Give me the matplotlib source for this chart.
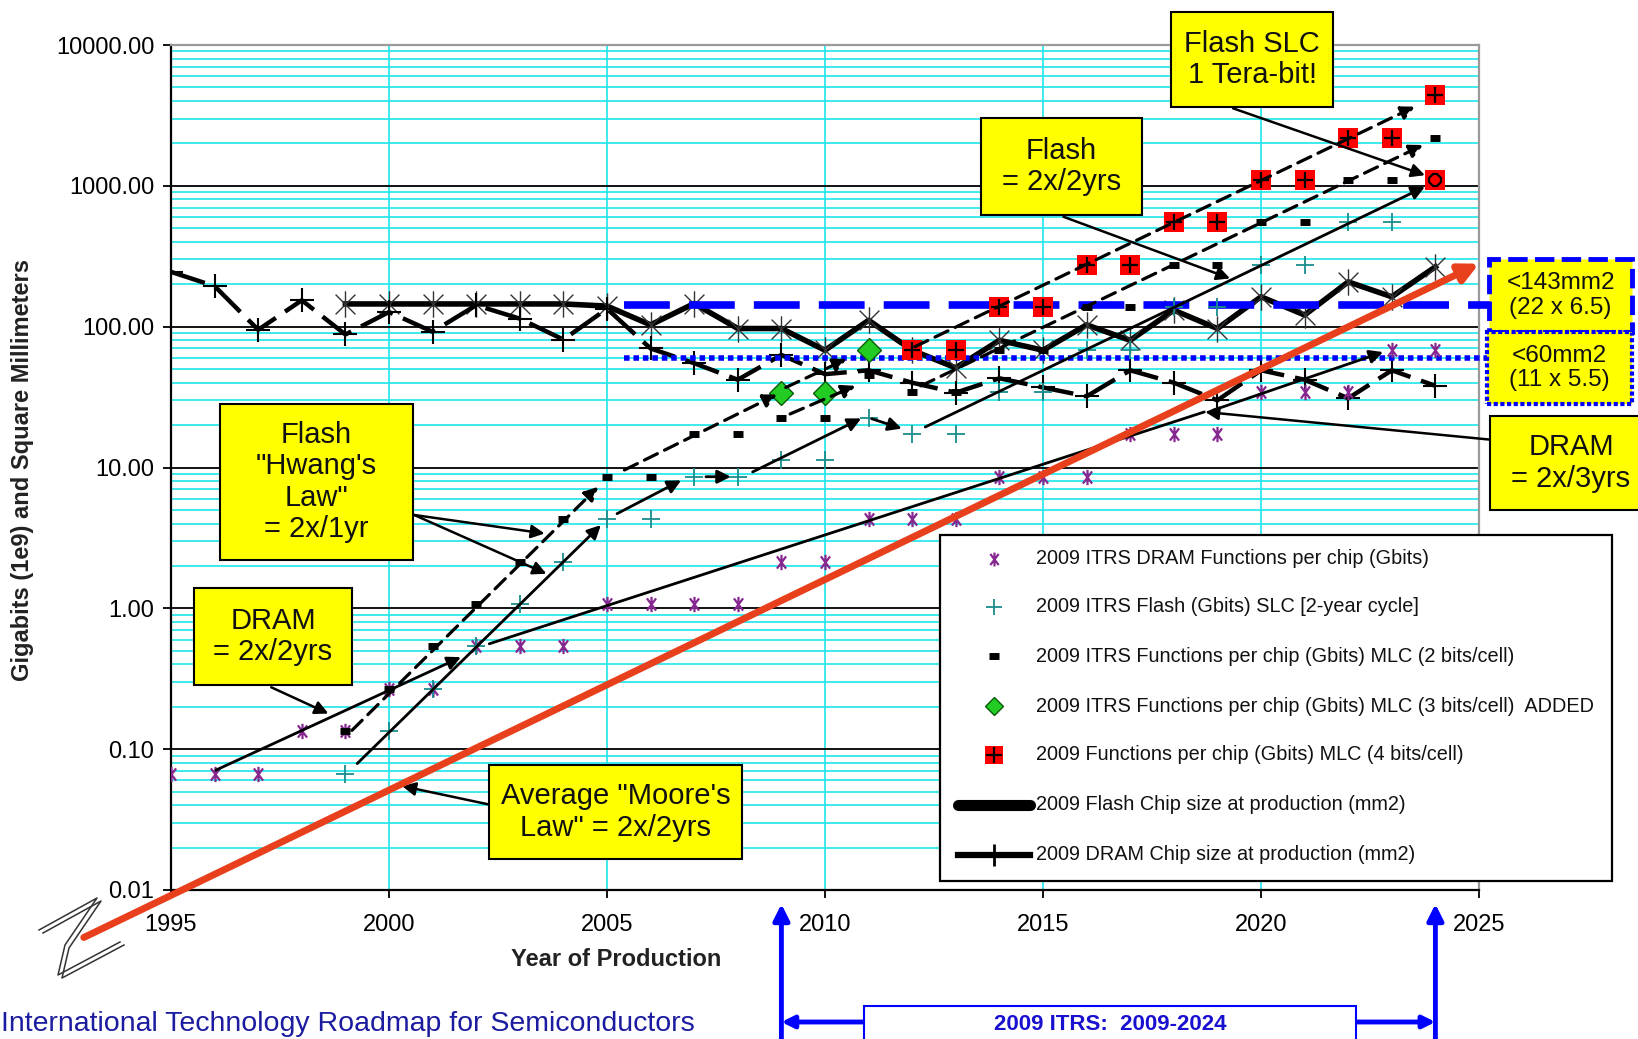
import matplotlib
matplotlib.use("Agg")
import matplotlib.pyplot as plt
from matplotlib.lines import Line2D
from matplotlib.patches import Rectangle
from matplotlib.path import Path
from matplotlib.ticker import FixedLocator, NullFormatter, LogLocator

plt.rcParams['font.family'] = ['Liberation Sans', 'DejaVu Sans']

W, H = 1638, 1039

# ---------------- data ----------------
year_ticks = [1995, 2000, 2005, 2010, 2015, 2020, 2025]
value_ticks = [0.01, 0.1, 1, 10, 100, 1000, 10000]

dram_years = list(range(1995, 2025))
dram_gbits = [0.067, 0.067, 0.067, 0.134, 0.134, 0.268, 0.268, 0.537, 0.537, 0.537,
              1.07, 1.07, 1.07, 1.07, 2.15, 2.15, 4.29, 4.29, 4.29, 8.59,
              8.59, 8.59, 17.18, 17.18, 17.18, 34.36, 34.36, 34.36, 68.72, 68.72]

flash_years = list(range(1999, 2025))
flash_slc_gbits = [0.067, 0.134, 0.268, 0.537, 1.07, 2.15, 4.29, 4.29, 8.59, 8.59,
                   11.3, 11.3, 22.6, 17.18, 17.18, 34.36, 34.36, 68.72, 68.72, 137.4,
                   137.4, 274.9, 274.9, 549.8, 549.8, 1099.5]

mlc2_years = list(range(1999, 2025))
mlc2_gbits = [0.134, 0.268, 0.537, 1.07, 2.15, 4.29, 8.59, 8.59, 17.18, 17.18,
              22.6, 22.6, 45.2, 34.36, 34.36, 68.72, 68.72, 137.4, 137.4, 274.9,
              274.9, 549.8, 549.8, 1099.5, 1099.5, 2199]

mlc3_years = [2009, 2010, 2011]
mlc3_gbits = [33.9, 33.9, 67.8]

mlc4_years = list(range(2012, 2025))
mlc4_gbits = [68.72, 68.72, 137.4, 137.4, 274.9, 274.9, 549.8, 549.8, 1099.5, 1099.5,
              2199, 2199, 4398]

flash_chip_years = list(range(1999, 2025))
flash_chip_mm2 = [145, 145, 145, 145, 145, 145, 140, 103, 146, 97,
                  97, 68, 111, 68, 51, 80, 68, 103, 80, 131,
                  97, 163, 121, 208, 163, 266]

dram_chip_years = list(range(1995, 2025))
dram_chip_mm2 = [245, 194, 95, 154, 88, 127, 92, 142, 114, 81,
                 134, 70, 55, 42, 63, 46, 49, 40, 34, 43,
                 37, 32, 49, 40, 30, 49, 42, 31, 49, 38]

flash_limit_mm2 = 143
dram_limit_mm2 = 60

# trend arrows (year, value) -> (year, value)
slc_trend = [((1999.27, 0.079), (2004.86, 3.9)), ((2005.23, 4.7), (2006.7, 8.1)),
             ((2007.27, 8.6), (2007.84, 8.6)), ((2008.34, 9.3), (2010.83, 22.3)),
             ((2011.07, 22.2), (2011.76, 18.9)), ((2012.3, 19.4), (2023.76, 985))]
mlc_trend = [((1999.15, 0.136), (2004.8, 7.3)), ((2005.4, 9.6), (2008.9, 33)),
             ((2009.1, 37), (2010.5, 59)), ((2009.2, 24), (2010.7, 38)),
             ((2012.06, 72), (2023.53, 3650)), ((2012.2, 38), (2023.72, 1950))]
dram_trend = [((1996.03, 0.071), (2001.65, 0.45), True),
              ((2002.3, 0.56), (2018.7, 24.8), False),
              ((2018.9, 25.5), (2022.8, 66), True)]
moore_start, moore_end = (1993.0, 0.0046), (2025.0, 280)
callouts = [((2000.58, 4.6), (2003.57, 3.4)), ((2000.58, 4.6), (2003.61, 1.76)),
            ((1997.3, 0.275), (1998.61, 0.179)), ((2002.29, 0.0405), (2000.30, 0.0547)),
            ((2015.47, 603), (2019.29, 220)), ((2019.36, 3550), (2023.76, 1190)),
            ((2025.23, 15.8), (2018.72, 24.8))]

PURPLE = '#86288f'
TEAL = '#1a8c8c'
GREEN = '#22cc22'
RED = '#ff0000'
CYAN = '#1ee6ea'
BLUE = '#0000ff'
YELLOW = '#ffff00'

# marker shapes
M, L = Path.MOVETO, Path.LINETO
dram_star = Path([(0, -1), (0, 1), (-0.6, -0.8), (0.6, 0.8), (-0.6, 0.8), (0.6, -0.8)],
                 [M, L, M, L, M, L])
chip_star = Path([(0, -1), (0, 1), (-0.75, -0.75), (0.75, 0.75), (-0.75, 0.75), (0.75, -0.75)],
                 [M, L, M, L, M, L])

fig = plt.figure(figsize=(W / 100, H / 100), dpi=100)
ax = fig.add_axes([171 / W, 1 - 890 / H, (1479 - 171) / W, (890 - 45) / H])
ax.set_yscale('log')
ax.set_xlim(1995, 2025)
ax.set_ylim(0.01, 10000)

# grid
ax.set_axisbelow(True)
ax.xaxis.set_major_locator(FixedLocator(year_ticks))
ax.yaxis.set_major_locator(FixedLocator(value_ticks))
ax.yaxis.set_minor_locator(LogLocator(base=10, subs=range(2, 10), numticks=20))
ax.yaxis.set_minor_formatter(NullFormatter())
ax.set_yticklabels([f'{v:.2f}' for v in value_ticks])
ax.set_xticklabels([str(y) for y in year_ticks])
ax.grid(axis='x', which='major', color=CYAN, lw=1.2)
ax.grid(axis='y', which='minor', color=CYAN, lw=1.2)
ax.grid(axis='y', which='major', color='black', lw=1.3)
ax.tick_params(axis='both', which='major', direction='out', length=6, width=1.3,
               labelsize=17, colors='black')
ax.tick_params(axis='x', pad=11)
ax.tick_params(axis='y', pad=6)
ax.tick_params(axis='y', which='minor', length=0)
for s in ('left', 'bottom'):
    ax.spines[s].set_color('black')
    ax.spines[s].set_linewidth(1.6)
for s in ('top', 'right'):
    ax.spines[s].set_color('#9a9a9a')
    ax.spines[s].set_linewidth(1.6)

# chip size series
ax.plot(flash_chip_years, flash_chip_mm2, color='black', lw=4, marker=chip_star, ms=19,
        mew=1.0, mec='#333333', mfc='none', zorder=3)
ax.plot(dram_chip_years, dram_chip_mm2, color='black', lw=3.2, ls=(0, (8, 2.5)),
        marker='+', ms=17, mew=1.5, zorder=3)

# die size limits
ax.hlines(flash_limit_mm2, 2005.4, 2025.3, color=BLUE, lw=5.5, linestyles=(0, (6, 2.5)),
          clip_on=False, zorder=3.5)
ax.hlines(dram_limit_mm2, 2005.4, 2025.3, color=BLUE, lw=4, linestyles=(0, (1, 0.7)),
          clip_on=False, zorder=3.5)

# functions per chip
ax.plot(dram_years, dram_gbits, ls='none', marker=dram_star, ms=11, mew=1.6,
        color=PURPLE, mfc='none', zorder=4)
ax.plot(flash_years, flash_slc_gbits, ls='none', marker='+', ms=13, mew=1.3,
        color=TEAL, zorder=4)
ax.plot(mlc2_years, mlc2_gbits, ls='none', marker='_', ms=7, mew=5, color='black', zorder=4)
ax.plot(mlc3_years, mlc3_gbits, ls='none', marker='D', ms=12, mfc=GREEN, mec='#0b5a0b',
        mew=1, zorder=4)
ax.plot(mlc4_years, mlc4_gbits, ls='none', marker='s', ms=14, color=RED, mew=0, zorder=4)
ax.plot(mlc4_years, mlc4_gbits, ls='none', marker='+', ms=12, color='black', mew=1.6, zorder=4.1)
ax.plot(flash_years[-1:], flash_slc_gbits[-1:], ls='none', marker='s', ms=14, color=RED,
        mew=0, zorder=4.2)
ax.plot(flash_years[-1:], flash_slc_gbits[-1:], ls='none', marker='8', ms=9, mfc='none',
        mec='black', mew=1.6, zorder=4.3)


def arrow(p0, p1, ls='-', lw=1.8, head=True, color='black', ms=20, z=5):
    style = '-|>' if head else '-'
    a = ax.annotate('', xy=p1, xytext=p0, annotation_clip=False,
                    arrowprops=dict(arrowstyle=style, color=color, lw=lw, linestyle=ls,
                                    mutation_scale=ms, shrinkA=0, shrinkB=0), zorder=z)
    a.arrow_patch.set_clip_on(False)
    return a


for p0, p1 in slc_trend:
    arrow(p0, p1, lw=2.0)
for p0, p1 in mlc_trend:
    arrow(p0, p1, ls=(0, (4.5, 2.5)), lw=2.3)
for p0, p1, h in dram_trend:
    arrow(p0, p1, head=h, lw=2.0)
for p0, p1 in callouts:
    arrow(p0, p1, lw=1.8)

# average Moore's law line
arrow(moore_start, moore_end, lw=5, color='#e8401c', ms=28, z=5.5)


# ---------------- figure level annotations ----------------
def fbox(x0, y0, x1, y1, text, fs, ec='black', ls='-', lw=1.5, fc=YELLOW, color='#111111',
         weight='normal', cx=None, cy=None):
    rect = Rectangle((x0 / W, 1 - y1 / H), (x1 - x0) / W, (y1 - y0) / H,
                     transform=fig.transFigure, fc=fc, ec=ec, lw=lw, ls=ls, zorder=10)
    fig.add_artist(rect)
    cx = (x0 + x1) / 2 if cx is None else cx
    cy = (y0 + y1) / 2 if cy is None else cy
    fig.text(cx / W, 1 - cy / H, text, ha='center', va='center', fontsize=fs,
             color=color, fontweight=weight, linespacing=1.15, zorder=11)


fbox(1171, 12, 1333, 107, 'Flash SLC\n1 Tera-bit!', 21)
fbox(981, 118, 1142, 215, 'Flash\n= 2x/2yrs', 21)
fbox(220, 404, 413, 560, 'Flash\n"Hwang\'s\nLaw"\n= 2x/1yr', 21)
fbox(194, 588, 352, 685, 'DRAM\n= 2x/2yrs', 21)
fbox(489, 765, 742, 859, 'Average "Moore\'s\nLaw" = 2x/2yrs', 21)
fbox(1490, 416, 1660, 510, 'DRAM\n= 2x/3yrs', 21, cx=1571)
fbox(1489, 259, 1632, 332, '<143mm2\n(22 x 6.5)', 17.5, ec=BLUE, ls=(0, (4, 1.5)), lw=3.5)
fbox(1487, 332, 1632, 404, '<60mm2\n(11 x 5.5)', 17.5, ec=BLUE, ls=(0, (1, 0.6)), lw=3)

# legend
fig.add_artist(Rectangle((940 / W, 1 - 881 / H), (1612 - 940) / W, (881 - 535) / H,
                         transform=fig.transFigure, fc='white', ec='black', lw=1.6, zorder=10))
legend_rows = [
    ('2009 ITRS DRAM Functions per chip (Gbits)',
     [dict(marker=dram_star, ms=10, mew=1.6, color=PURPLE, mfc='none')]),
    ('2009 ITRS Flash (Gbits) SLC [2-year cycle]',
     [dict(marker='+', ms=12, mew=1.3, color=TEAL)]),
    ('2009 ITRS Functions per chip (Gbits) MLC (2 bits/cell)',
     [dict(marker='_', ms=7, mew=5, color='black')]),
    ('2009 ITRS Functions per chip (Gbits) MLC (3 bits/cell)  ADDED',
     [dict(marker='D', ms=9, mfc=GREEN, mec='#0b5a0b', mew=1)]),
    ('2009 Functions per chip (Gbits) MLC (4 bits/cell)',
     [dict(marker='s', ms=13, color=RED, mew=0), dict(marker='+', ms=11, color='black', mew=1.6)]),
    ('2009 Flash Chip size at production (mm2)', 'flash'),
    ('2009 DRAM Chip size at production (mm2)', 'dram'),
]
row_y = [559, 607, 656, 706, 755, 805, 855]
for (label, spec), yy in zip(legend_rows, row_y):
    yf = 1 - yy / H
    if spec == 'flash':
        fig.add_artist(Line2D([958 / W, 1030 / W], [yf, yf], transform=fig.transFigure,
                              color='black', lw=8, solid_capstyle='round', zorder=11))
    elif spec == 'dram':
        fig.add_artist(Line2D([958 / W, 1030 / W], [yf, yf], transform=fig.transFigure,
                              color='black', lw=4.5, zorder=11))
        fig.add_artist(Line2D([994 / W], [yf], transform=fig.transFigure, ls='none',
                              marker='+', ms=16, mew=2, color='black', zorder=11))
    else:
        for kw in spec:
            fig.add_artist(Line2D([994 / W], [yf], transform=fig.transFigure, ls='none',
                                  zorder=11, **kw))
    fig.text(1036 / W, yf, label, ha='left', va='center', fontsize=14.3, color='#111111',
             zorder=11)

# axis titles
fig.text(23 / W, 1 - 470 / H, 'Gigabits (1e9) and Square Millimeters', rotation=90,
         ha='center', va='center', fontsize=17, fontweight='bold', color='#222222')
fig.text(616 / W, 1 - 960 / H, 'Year of Production', ha='center', va='center',
         fontsize=17, fontweight='bold', color='#222222')

# break mark at the origin
zig = [(39, 930), (97, 898), (65, 945), (58, 975), (120, 942)]
for dx, dy in ((0, 0), (4, 3)):
    fig.add_artist(Line2D([(x + dx) / W for x, _ in zig], [1 - (y + dy) / H for _, y in zig],
                          transform=fig.transFigure, color='#333333', lw=1.1, zorder=10))

# roadmap span at the bottom
for yr in (2009, 2024):
    a = ax.annotate('', xy=(yr, 1 - 904 / H), xycoords=('data', 'figure fraction'),
                    xytext=(yr, -0.02), textcoords=('data', 'figure fraction'),
                    annotation_clip=False,
                    arrowprops=dict(arrowstyle='-|>', color=BLUE, lw=3.5, mutation_scale=24,
                                    shrinkA=0, shrinkB=0))
    a.arrow_patch.set_clip_on(False)
for x_from, x_to in ((2010.89, 2009), (2022.18, 2024)):
    a = ax.annotate('', xy=(x_to, 1 - 1022 / H), xycoords=('data', 'figure fraction'),
                    xytext=(x_from, 1 - 1022 / H), textcoords=('data', 'figure fraction'),
                    annotation_clip=False,
                    arrowprops=dict(arrowstyle='-|>', color=BLUE, lw=3.5, mutation_scale=18,
                                    shrinkA=0, shrinkB=0))
    a.arrow_patch.set_clip_on(False)
fbox(864, 1006, 1356, 1050, '2009 ITRS:  2009-2024', 16, ec=BLUE, fc='white', color='#1a10d0',
     weight='bold', cy=1024)

fig.text(1 / W, 2 / H, 'International Technology Roadmap for Semiconductors',
         ha='left', va='bottom', fontsize=20.5, color='#1c1ca0')

fig.savefig('out.png', dpi=100)
